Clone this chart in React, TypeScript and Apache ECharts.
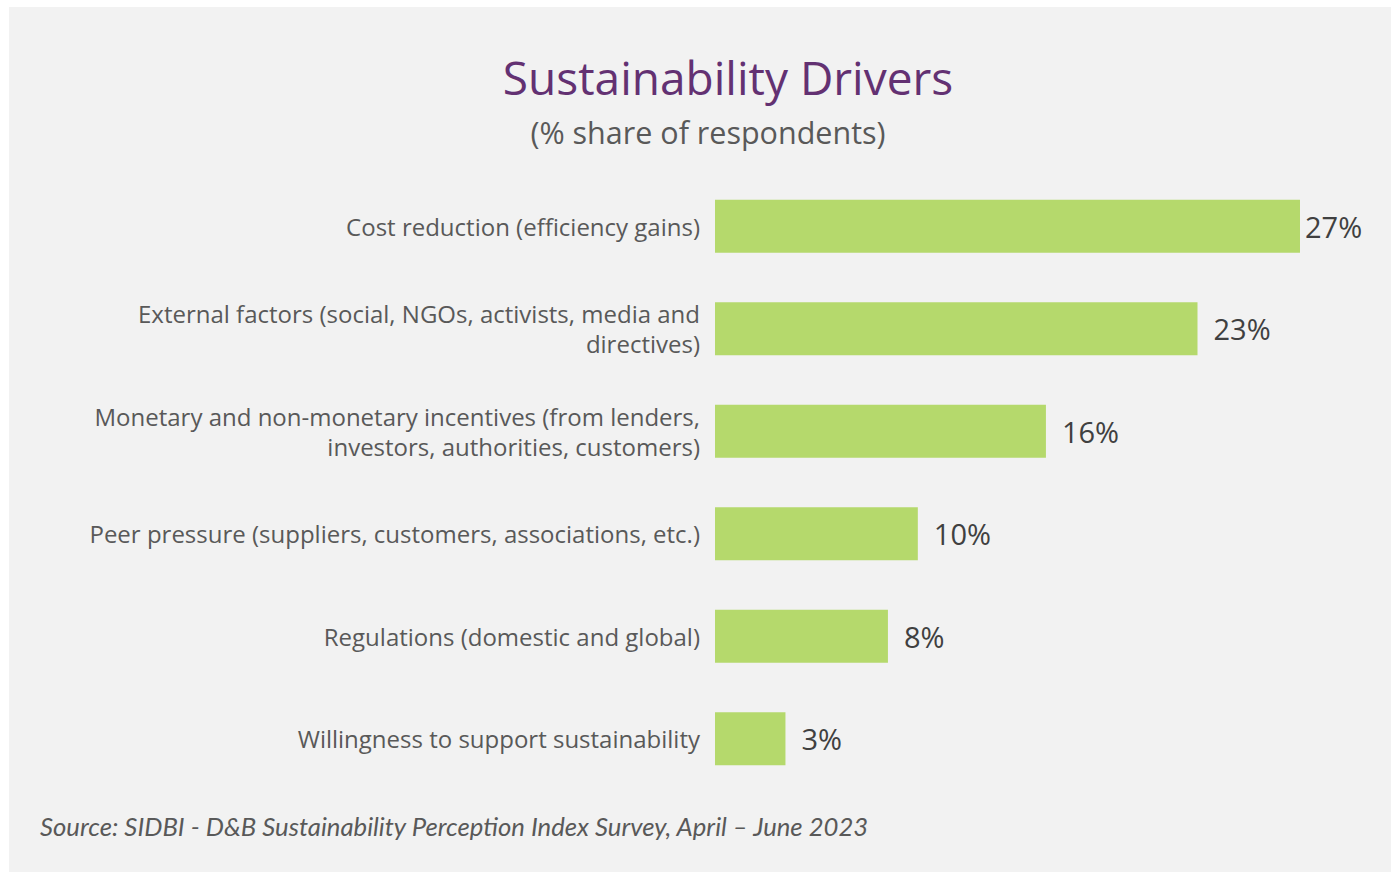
import React, { useEffect, useRef } from "react";
import * as echarts from "echarts";

const categories = [
  "Cost reduction (efficiency gains)",
  "External factors (social, NGOs, activists, media and\ndirectives)",
  "Monetary and non-monetary incentives (from lenders,\ninvestors, authorities, customers)",
  "Peer pressure (suppliers, customers, associations, etc.)",
  "Regulations (domestic and global)",
  "Willingness to support sustainability",
];
const values = [27.4, 22.6, 15.5, 9.5, 8.1, 3.3];
const valueLabels = ["27%", "23%", "16%", "10%", "8%", "3%"];

const titleText = "Sustainability Drivers";
const subtitleText = "(% share of respondents)";
const sourceText = "Source: SIDBI - D&B Sustainability Perception Index Survey, April \u2013 June 2023";

export default function App() {
  const ref = useRef<HTMLDivElement>(null);
  useEffect(() => {
    if (!ref.current) return;
    const chart = echarts.init(ref.current, null, { renderer: "svg" });
    chart.setOption({
      animation: false,
      backgroundColor: "#ffffff",
      grid: { left: 715, top: 175, height: 615, width: 640.5, containLabel: false },
      xAxis: {
        type: "value",
        min: 0,
        max: 30,
        show: false,
      },
      yAxis: {
        type: "category",
        data: categories,
        inverse: true,
        axisLine: { show: false },
        axisTick: { show: false },
        splitLine: { show: false },
        axisLabel: {
          margin: 15,
          fontFamily: "Open Sans",
          fontSize: 24,
          lineHeight: 30,
          color: "#595959",
          align: "right",
        },
      },
      graphic: [
        {
          type: "rect",
          z: -100,
          silent: true,
          shape: { x: 9, y: 7, width: 1391 - 9, height: 872 - 7 },
          style: { fill: "#f2f2f2" },
        },
        {
          type: "text",
          x: 728,
          y: 77,
          style: {
            text: titleText,
            fontFamily: "Open Sans",
            fontSize: 46,
            fill: "#633172",
            textAlign: "center",
            textVerticalAlign: "middle",
          },
        },
        {
          type: "text",
          x: 708,
          y: 132,
          style: {
            text: subtitleText,
            fontFamily: "Open Sans",
            fontSize: 30.5,
            fill: "#595959",
            textAlign: "center",
            textVerticalAlign: "middle",
          },
        },
        {
          type: "text",
          x: 40,
          y: 826,
          style: {
            text: sourceText,
            fontFamily: "Lato",
            fontStyle: "italic",
            fontSize: 25.7,
            fill: "#595959",
            textAlign: "left",
            textVerticalAlign: "middle",
          },
        },
      ],
      series: [
        {
          type: "bar",
          data: values.map((v, i) => ({
            value: v,
            label: { distance: i === 0 ? 5 : 16 },
          })),
          barWidth: 53,
          itemStyle: { color: "#b5d96c" },
          label: {
            show: true,
            position: "right",
            distance: 16,
            fontFamily: "Open Sans",
            fontSize: 29,
            color: "#404040",
            formatter: (p: any) => valueLabels[p.dataIndex],
          },
        },
      ],
    });
    return () => chart.dispose();
  }, []);
  return (
    <div style={{ position: "fixed", left: 0, top: 0, width: 1391, height: 872 }}>
      <div ref={ref} style={{ width: 1391, height: 872 }} />
    </div>
  );
}
